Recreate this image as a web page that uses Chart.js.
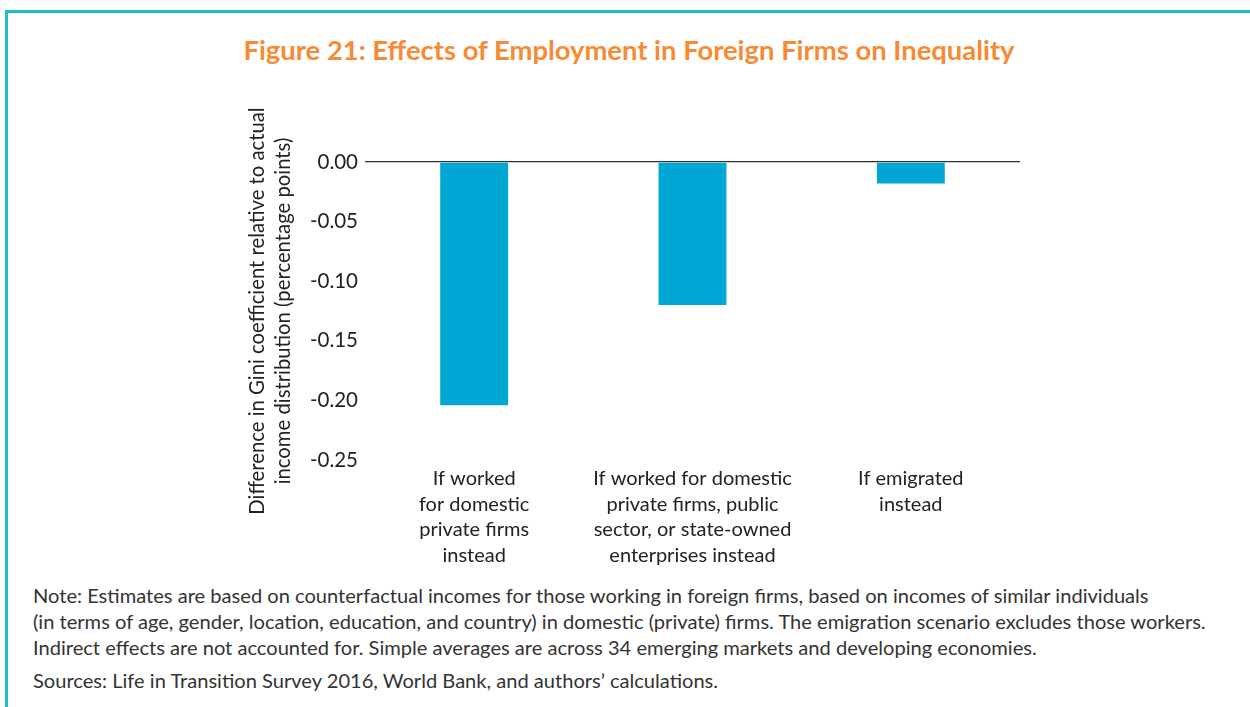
<!DOCTYPE html>
<html>
<head>
<meta charset="utf-8">
<script src="https://cdn.jsdelivr.net/npm/chart.js@4.4.1/dist/chart.umd.min.js"></script>
<style>
  html, body { margin: 0; padding: 0; background: #fff; width: 1250px; height: 707px; overflow: hidden; }
  #frame { position: absolute; left: 5px; top: 10px; width: 1300px; height: 800px; border-top: 3px solid #1BBDCE; border-left: 3px solid #1BBDCE; }
  #title { position: absolute; left: 0; width: 1258px; top: 33px; text-align: center; font-family: Lato, sans-serif; font-weight: bold; font-size: 27.4px; color: #F68B33; white-space: nowrap; }
  #wrap { position: absolute; left: 240px; top: 90px; width: 800px; height: 490px; }
  #notes { position: absolute; left: 33px; top: 582px; font-family: Lato, sans-serif; font-size: 20.1px; color: #333; line-height: 26px; white-space: nowrap; }
  #notes .src { margin-top: 7px; }
</style>
</head>
<body>
<div id="frame"></div>
<div id="wrap"><canvas id="c" width="800" height="490"></canvas></div>
<div id="title">Figure 21: Effects of Employment in Foreign Firms on Inequality</div>
<div id="notes">
  <div>Note: Estimates are based on counterfactual incomes for those working in foreign firms, based on incomes of similar individuals</div>
  <div>(in terms of age, gender, location, education, and country) in domestic (private) firms. The emigration scenario excludes those workers.</div>
  <div>Indirect effects are not accounted for. Simple averages are across 34 emerging markets and developing economies.</div>
  <div class="src">Sources: Life in Transition Survey 2016, World Bank, and authors’ calculations.</div>
</div>
<script>
const categories = [
  ["If worked", "for domestic", "private firms", "instead"],
  ["If worked for domestic", "private firms, public", "sector, or state-owned", "enterprises instead"],
  ["If emigrated", "instead"]
];
const giniDifference = [-0.204, -0.120, -0.018];
const yTickValues = [0, -0.05, -0.10, -0.15, -0.20, -0.25];
const yAxisTitle = ["Difference in Gini coefficient relative to actual", "income distribution (percentage points)"];

const FONT = "Lato, sans-serif";
new Chart(document.getElementById('c'), {
  type: 'bar',
  data: {
    labels: categories,
    datasets: [{
      data: giniDifference,
      backgroundColor: '#00A6D4',
      borderWidth: 0,
      categoryPercentage: 1,
      barPercentage: 0.311
    }]
  },
  options: {
    responsive: false,
    animation: false,
    layout: { padding: { left: 0, right: 20, top: 72, bottom: 0 } },
    plugins: { legend: { display: false }, tooltip: { enabled: false }, title: { display: false } },
    scales: {
      x: {
        position: 'bottom',
        grid: { display: false, drawTicks: false },
        border: { display: false },
        ticks: { color: '#222', font: { family: FONT, size: 20, lineHeight: 1.28 }, padding: 6, maxRotation: 0, autoSkip: false },
        afterFit: (s) => { s.height = 120; }
      },
      y: {
        min: -0.25, max: 0,
        grid: {
          drawTicks: false,
          color: (ctx) => (ctx.tick && ctx.tick.value === 0) ? '#333' : 'rgba(0,0,0,0)',
          lineWidth: 1.3
        },
        border: { display: false },
        afterBuildTicks: (s) => { s.ticks = yTickValues.map(v => ({ value: v })); },
        ticks: {
          color: '#222', padding: 7,
          font: { family: FONT, size: 20.5 },
          callback: (v) => Number(v).toFixed(2)
        },
        title: {
          display: true, text: yAxisTitle, color: '#222',
          font: { family: FONT, size: 20.3, lineHeight: 1.25 }, padding: { top: 5, bottom: 6 }
        },
        afterFit: (s) => { s.width = 125; }
      }
    }
  }
});
</script>
</body>
</html>
